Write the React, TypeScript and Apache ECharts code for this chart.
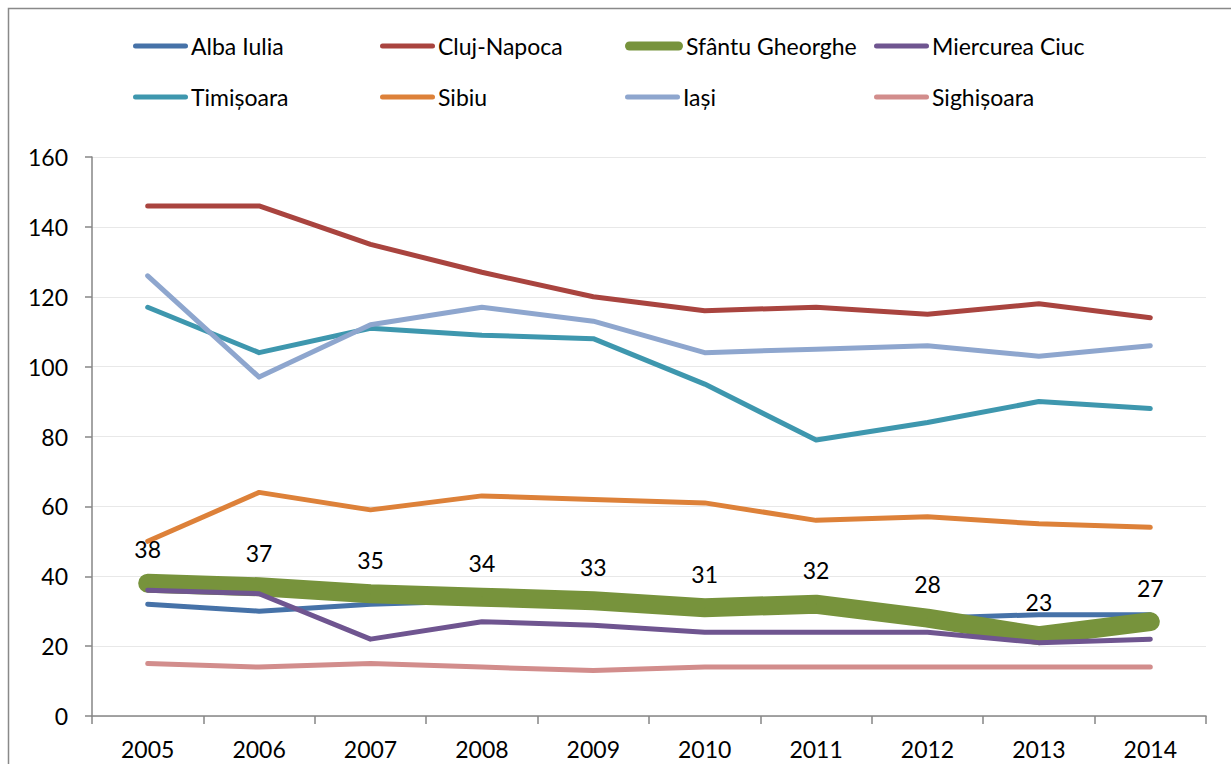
import React, { useEffect, useRef } from "react";
import * as echarts from "echarts";

const years = ["2005", "2006", "2007", "2008", "2009", "2010", "2011", "2012", "2013", "2014"];
const albaIulia = [32, 30, 32, 33, 33, 31, 31, 28, 29, 29];
const clujNapoca = [146, 146, 135, 127, 120, 116, 117, 115, 118, 114];
const sfantuGheorghe = [38, 37, 35, 34, 33, 31, 32, 28, 23, 27];
const miercureaCiuc = [36, 35, 22, 27, 26, 24, 24, 24, 21, 22];
const timisoara = [117, 104, 111, 109, 108, 95, 79, 84, 90, 88];
const sibiu = [50, 64, 59, 63, 62, 61, 56, 57, 55, 54];
const iasi = [126, 97, 112, 117, 113, 104, 105, 106, 103, 106];
const sighisoara = [15, 14, 15, 14, 13, 14, 14, 14, 14, 14];

const seriesNames = ["Alba Iulia", "Cluj-Napoca", "Sfântu Gheorghe", "Miercurea Ciuc", "Timișoara", "Sibiu", "Iași", "Sighișoara"];
const seriesData = [albaIulia, clujNapoca, sfantuGheorghe, miercureaCiuc, timisoara, sibiu, iasi, sighisoara];
const seriesColors = ["#4672A8", "#A9443F", "#77933C", "#6F5590", "#3E97AE", "#DD8139", "#8EA6CE", "#D28D8C"];

const FONT = "Lato, 'Open Sans', sans-serif";

function pillPath(w: number, h: number) {
  const r = h / 2;
  return `path://M${r},0 L${w - r},0 A${r},${r} 0 0 1 ${w - r},${h} L${r},${h} A${r},${r} 0 0 1 ${r},0 Z`;
}

export default function App() {
  const ref = useRef<HTMLDivElement>(null);
  useEffect(() => {
    if (!ref.current) return;
    const chart = echarts.init(ref.current, undefined, { renderer: "svg" });
    const legendLeft = [133, 380, 625, 874];
    const legendCenter = [46, 97];
    chart.setOption({
      animation: false,
      backgroundColor: "#ffffff",
      textStyle: { fontFamily: FONT },
      graphic: [
        {
          type: "rect",
          shape: { x: 8.5, y: 8.5, width: 1300, height: 900 },
          style: { fill: "none", stroke: "#898989", lineWidth: 1.5 },
          silent: true,
        },
      ],
      legend: seriesNames.map((n, i) => {
        const isSG = n === "Sfântu Gheorghe";
        const w = isSG ? 58 : 55;
        const h = isSG ? 9 : 5;
        return {
          data: [{ name: n, icon: pillPath(w, h) }],
          left: legendLeft[i % 4],
          top: legendCenter[Math.floor(i / 4)] - 14,
          height: 28,
          padding: 0,
          itemWidth: w,
          itemHeight: h,
          itemGap: 0,
          selectedMode: false,
          textStyle: { fontSize: 23, color: "#000", fontFamily: FONT, padding: [0, 0, 0, -2], lineHeight: 28 },
        };
      }),
      grid: { left: 92, right: 25, top: 157, bottom: 48, containLabel: false },
      xAxis: {
        type: "category",
        data: years,
        boundaryGap: true,
        axisLine: { lineStyle: { color: "#868686", width: 1.5 } },
        axisTick: { show: true, length: 8, alignWithLabel: false, lineStyle: { color: "#868686", width: 1.5 } },
        axisLabel: { fontSize: 23, color: "#000", margin: 21, fontFamily: FONT },
        splitLine: { show: false },
      },
      yAxis: {
        type: "value",
        min: 0,
        max: 160,
        interval: 20,
        axisLine: { show: true, lineStyle: { color: "#868686", width: 1.5 } },
        axisTick: { show: true, length: 7, lineStyle: { color: "#868686", width: 1.5 } },
        axisLabel: { fontSize: 23, color: "#000", margin: 24, fontFamily: FONT },
        splitLine: { show: true, lineStyle: { color: "#e8e8e8", width: 1 } },
      },
      series: seriesNames.map((n, i) => {
        const isSG = n === "Sfântu Gheorghe";
        return {
          name: n,
          type: "line",
          data: seriesData[i],
          color: seriesColors[i],
          symbol: isSG ? "circle" : "none",
          symbolSize: isSG ? 1 : 0,
          showSymbol: isSG,
          itemStyle: { color: seriesColors[i] },
          lineStyle: { width: isSG ? 19 : 5, color: seriesColors[i], cap: "round", join: "round" },
          label: isSG
            ? { show: true, position: "top", distance: 22, fontSize: 23, color: "#000", fontFamily: FONT }
            : { show: false },
          emphasis: { disabled: true },
        };
      }),
    });
    return () => chart.dispose();
  }, []);
  return (
    <div
      ref={ref}
      style={{ position: "absolute", left: 0, top: 0, width: 1231, height: 764 }}
    />
  );
}
